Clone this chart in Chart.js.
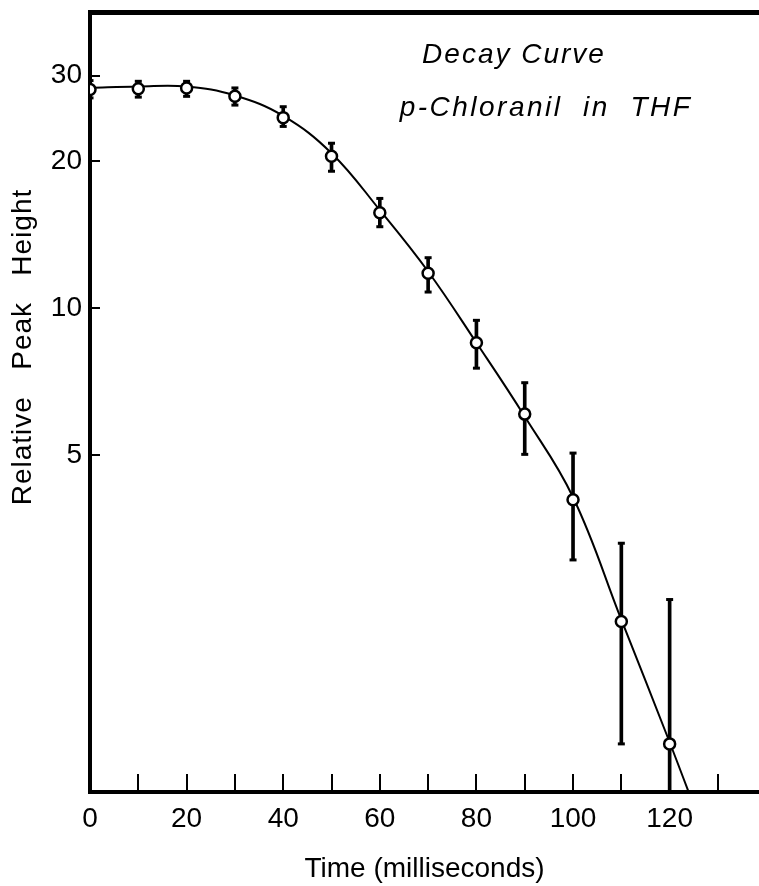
<!DOCTYPE html>
<html>
<head>
<meta charset="utf-8">
<script src="https://cdn.jsdelivr.net/npm/chart.js@4.4.1/dist/chart.umd.min.js"></script>
<style>
  html, body { margin: 0; padding: 0; background: #fff; }
  canvas { display: block; }
</style>
</head>
<body>
<canvas id="decayChart" width="759" height="886"></canvas>
<script>
// measured points (time in ms, relative peak height)
const times = [0, 10, 20, 30, 40, 50, 60, 70, 80, 90, 100, 110, 120];
const heights = [28.1, 28.2, 28.3, 27.2, 24.6, 20.5, 15.7, 11.8, 8.5, 6.07, 4.05, 2.28, 1.28];
const errHigh = [29.3, 29.2, 29.2, 28.3, 25.9, 21.8, 16.8, 12.7, 9.45, 7.04, 5.05, 3.3, 2.53];
const errLow = [27.0, 27.1, 27.2, 26.1, 23.6, 19.1, 14.7, 10.8, 7.54, 5.02, 3.05, 1.28, 1.0];

// smooth curve drawn through the data
const curveTimes = [0, 10, 20, 30, 40, 50, 60, 70, 80, 90, 100, 110, 120, 126];
const curveHeights = [28.3, 28.5, 28.5, 27.3, 24.8, 20.8, 15.9, 11.9, 8.5, 6.0, 4.1, 2.3, 1.29, 0.9];

// axes
const xMin = 0, xMax = 138.5;
const yMin = 1.02, yMax = 40.5;
const yTicks = [5, 10, 20, 30];

const noteLines = ['Decay Curve', 'p-Chloranil  in  THF'];
const yTitle = 'Relative   Peak   Height';
const xTitle = 'Time (milliseconds)';

const FONT = '"Liberation Sans", Arial, sans-serif';

/**
 * draws the free text: the note in the plot and the y axis title
 */
const textPlugin = {
  id: 'notes',
  afterDraw(chart) {
    const ctx = chart.ctx;
    const area = chart.chartArea;
    ctx.save();
    ctx.fillStyle = '#000';
    ctx.textAlign = 'center';
    ctx.textBaseline = 'middle';
    ctx.font = 'italic 28px ' + FONT;
    ctx.letterSpacing = '2px';
    ctx.fillText(noteLines[0], area.left + 424, area.top + 43);
    ctx.letterSpacing = '2.5px';
    ctx.fillText(noteLines[1], area.left + 456, area.top + 96);

    ctx.letterSpacing = '1px';
    ctx.font = '28px ' + FONT;
    ctx.translate(23, area.top + 335);
    ctx.rotate(-Math.PI / 2);
    ctx.fillText(yTitle, 0, 0);
    ctx.restore();
  }
};

// no extra room round the plot for the first and last labels
const noPadding = s => {
  s.paddingTop = 0;
  s.paddingBottom = 0;
  s.paddingLeft = 0;
  s.paddingRight = 0;
};

const generateChart = () => {
  const points = times.map((t, i) => ({ x: t, y: heights[i] }));
  const stems = times.map((t, i) => ({ x: t, y: [errLow[i], errHigh[i]] }));
  let caps = [];
  times.forEach((t, i) => {
    if (errHigh[i] >= yMin) caps.push({ x: t, y: errHigh[i] });
    if (errLow[i] >= yMin) caps.push({ x: t, y: errLow[i] });
  });
  const curve = curveTimes.map((t, i) => ({ x: t, y: curveHeights[i] }));

  const tickFont = { family: FONT, size: 28 };

  const ctx = document.getElementById('decayChart').getContext('2d');
  new Chart(ctx, {
    type: 'scatter',
    data: {
      datasets: [
        {
          type: 'line',
          data: curve,
          borderColor: '#000',
          borderWidth: 2,
          pointRadius: 0,
          tension: 0.4,
          fill: false,
          order: 3
        },
        {
          type: 'bar',
          data: stems,
          backgroundColor: '#000',
          borderWidth: 0,
          barThickness: 3,
          order: 2
        },
        {
          type: 'scatter',
          data: caps,
          pointStyle: 'line',
          pointRadius: 3.5,
          borderColor: '#000',
          borderWidth: 3,
          order: 1
        },
        {
          type: 'scatter',
          data: points,
          pointRadius: 5.5,
          pointBorderWidth: 2.5,
          pointBackgroundColor: '#fff',
          pointBorderColor: '#000',
          order: 0
        }
      ]
    },
    options: {
      responsive: false,
      animation: false,
      devicePixelRatio: 1,
      layout: { autoPadding: false, padding: { top: 12, right: 0, bottom: 0, left: 0 } },
      plugins: {
        legend: { display: false },
        tooltip: { enabled: false }
      },
      scales: {
        x: {
          type: 'linear',
          position: 'bottom',
          min: xMin,
          max: xMax,
          offset: false,
          border: { display: true, color: '#000', width: 4 },
          grid: {
            display: true,
            offset: false,
            drawOnChartArea: false,
            drawTicks: true,
            tickLength: -18,
            color: '#000',
            lineWidth: 2
          },
          ticks: {
            stepSize: 10,
            includeBounds: false,
            autoSkip: false,
            maxRotation: 0,
            padding: 28,
            color: '#000',
            font: tickFont,
            callback: v => (v % 20 === 0 ? String(v) : '')
          },
          title: {
            display: true,
            text: xTitle,
            color: '#000',
            font: { family: FONT, size: 28 },
            padding: { top: 0, bottom: 0 }
          },
          afterFit: s => { s.height = 94; noPadding(s); }
        },
        x2: {
          type: 'linear',
          position: 'top',
          min: xMin,
          max: xMax,
          border: { display: true, color: '#000', width: 5 },
          grid: { display: false, drawTicks: false },
          ticks: { display: false },
          afterFit: s => { s.height = 0; noPadding(s); }
        },
        y: {
          type: 'logarithmic',
          min: yMin,
          max: yMax,
          border: { display: true, color: '#000', width: 4 },
          grid: {
            drawOnChartArea: false,
            drawTicks: true,
            tickLength: -10,
            color: '#000',
            lineWidth: 2
          },
          ticks: {
            autoSkip: false,
            padding: 18,
            color: '#000',
            font: tickFont,
            callback: v => String(v)
          },
          afterBuildTicks: s => { s.ticks = yTicks.map(v => ({ value: v })); },
          afterFit: s => { s.width = 90; noPadding(s); }
        }
      }
    },
    plugins: [textPlugin]
  });
};

generateChart();
</script>
</body>
</html>
